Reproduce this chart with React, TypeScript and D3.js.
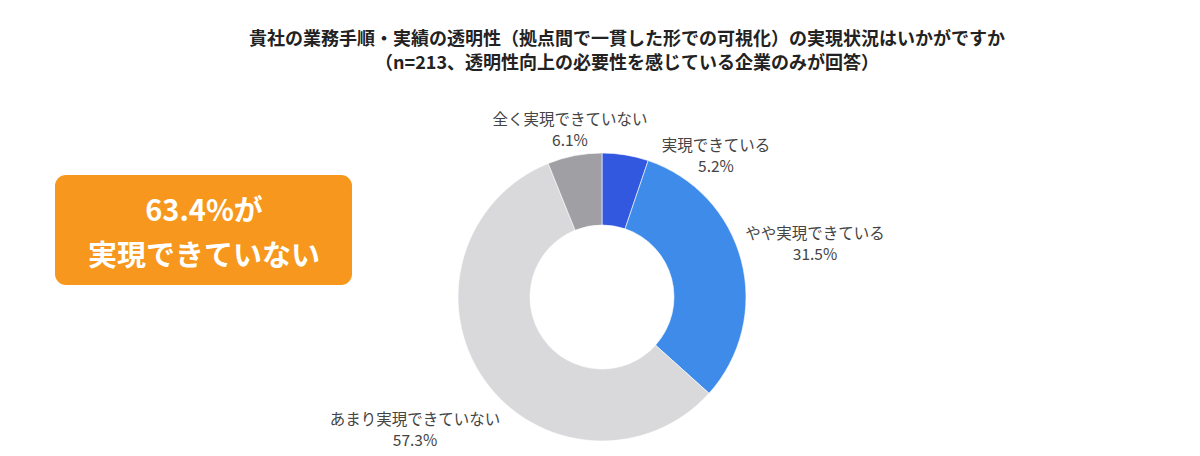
import React from "react";
import * as d3 from "d3";

const categories = ["実現できている", "やや実現できている", "あまり実現できていない", "全く実現できていない"];
const values = [5.2, 31.5, 57.3, 6.1];
const colors = ["#3358e0", "#3e8be9", "#d9d8db", "#a09fa3"];
const titleLines = [
  "貴社の業務手順・実績の透明性（拠点間で一貫した形での可視化）の実現状況はいかがですか",
  "（n=213、透明性向上の必要性を感じている企業のみが回答）",
];
const calloutLines = ["63.4%が", "実現できていない"];
// label anchor offsets (dx, dy) relative to donut center, in px
const labelPos: [number, number][] = [
  [114, -146],
  [213, -58],
  [-187, 128],
  [-32, -172],
];

const W = 1200;
const H = 456;
const FONT = "'Noto Sans CJK JP', 'Noto Sans', sans-serif";

export default function App() {
  const cx = 602;
  const cy = 297;
  const outerR = 144;
  const innerR = 72;
  const pie = d3.pie<number>().value((d) => d).sort(null);
  const arcs = pie(values);
  const arcGen = d3.arc<d3.PieArcDatum<number>>().innerRadius(innerR).outerRadius(outerR);

  return (
    <svg width={W} height={H} style={{ position: "absolute", left: 0, top: 0, display: "block" }} fontFamily={FONT}>
      <rect width={W} height={H} fill="#ffffff" />
      {titleLines.map((t, i) => (
        <text key={i} x={627} y={45 + i * 24} textAnchor="middle" fontSize={18} fontWeight={700} fill="#222">
          {t}
        </text>
      ))}
      <rect x={55} y={175} width={297} height={110} rx={11} fill="#f7971d" />
      {calloutLines.map((t, i) => (
        <text key={i} x={204} y={221 + i * 45} textAnchor="middle" fontSize={29} fontWeight={700} fill="#ffffff">
          {t}
        </text>
      ))}
      <g transform={`translate(${cx},${cy})`}>
        {arcs.map((a, i) => (
          <path key={i} d={arcGen(a) || ""} fill={colors[i]} stroke="#ffffff" strokeWidth={0.6} />
        ))}
      </g>
      {categories.map((c, i) => (
        <g key={i} transform={`translate(${cx + labelPos[i][0]},${cy + labelPos[i][1]})`}>
          <text x={0} y={0} textAnchor="middle" fontSize={15.5} fill="#444">
            {c}
          </text>
          <text x={0} y={20.5} textAnchor="middle" fontSize={15.5} fill="#444">
            {values[i].toFixed(1)}%
          </text>
        </g>
      ))}
    </svg>
  );
}
